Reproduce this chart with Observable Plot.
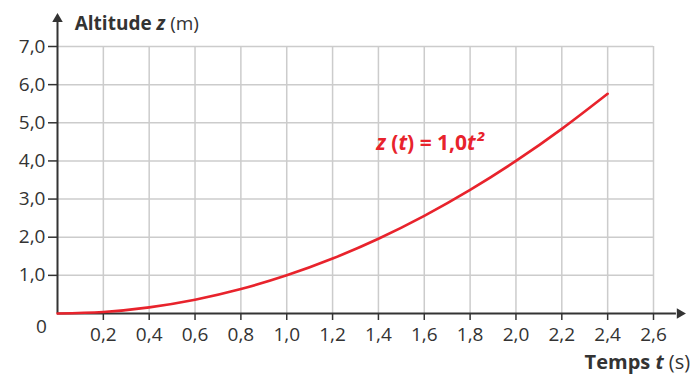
<!DOCTYPE html>
<html>
<head>
<meta charset="utf-8">
<script src="https://cdn.jsdelivr.net/npm/d3@7"></script>
<script src="https://cdn.jsdelivr.net/npm/@observablehq/plot@0.6"></script>
<style>
  html, body { margin: 0; padding: 0; background: #fff; }
</style>
</head>
<body>
<div id="chart"></div>
<script>
// Data
const times = [0, 0.2, 0.4, 0.6, 0.8, 1.0, 1.2, 1.4, 1.6, 1.8, 2.0, 2.2, 2.4];
const altitudes = [0, 0.04, 0.16, 0.36, 0.64, 1.0, 1.44, 1.96, 2.56, 3.24, 4.0, 4.84, 5.76];
const xTicks = [0.2, 0.4, 0.6, 0.8, 1.0, 1.2, 1.4, 1.6, 1.8, 2.0, 2.2, 2.4, 2.6];
const yTicks = [1, 2, 3, 4, 5, 6, 7];
const yLabel = "Altitude z (m)";
const xLabel = "Temps t (s)";
const curveLabel = "z (t) = 1,0t²";

const points = times.map((t, i) => ({t, z: altitudes[i]}));
const fmt = d => d.toFixed(1).replace(".", ",");
const red = "#e8232c";
const ink = "#333";
const grid = "#cccccc";

const chart = Plot.plot({
  width: 694,
  height: 376,
  marginLeft: 57,
  marginRight: 41,
  marginTop: 46,
  marginBottom: 63,
  style: {fontFamily: "'Open Sans', sans-serif", fontSize: "19px", color: ink, background: "#fff", overflow: "visible"},
  x: {domain: [0, 2.6]},
  y: {domain: [0, 7]},
  marks: [
    // grid
    Plot.ruleY(yTicks, {x1: 0, x2: 2.6, stroke: grid, strokeWidth: 1.5}),
    Plot.ruleX(xTicks, {y1: 0, y2: 7, stroke: grid, strokeWidth: 1.5}),
    // axes ticks and labels
    Plot.axisY(yTicks, {tickSize: 9, tickPadding: 3, tickFormat: fmt, label: null, stroke: ink, strokeWidth: 1.5, fontSize: 19}),
    Plot.axisX(xTicks, {tickSize: 7, tickPadding: 7, tickFormat: fmt, label: null, stroke: ink, strokeWidth: 1.5, fontSize: 19}),
    // axis lines
    Plot.ruleX([0], {y1: 0, y2: 7.65, stroke: ink, strokeWidth: 2}),
    Plot.ruleY([0], {x1: 0, x2: 2.7, stroke: ink, strokeWidth: 2}),
    Plot.dot([{x: 0, y: 7.72}], {x: "x", y: "y", symbol: "triangle", r: 3.9, fill: ink, stroke: null}),
    Plot.dot([{x: 2.715, y: 0}], {x: "x", y: "y", symbol: "triangle", r: 3.9, fill: ink, stroke: null, rotate: 90}),
    // origin label
    Plot.text(["0"], {x: 0, y: 0, dx: -16, dy: 13, fontSize: 19, fill: ink}),
    // curve
    Plot.line(points, {x: "t", y: "z", curve: "natural", stroke: red, strokeWidth: 2.6}),
    // labels
    Plot.text([yLabel], {x: 0.075, y: 7.6, textAnchor: "start", fontSize: 19, fill: ink}),
    Plot.text([xLabel], {x: 2.76, y: -1.3, textAnchor: "end", fontSize: 20, fill: ink}),
    Plot.text([curveLabel], {x: 1.625, y: 4.45, textAnchor: "middle", fontSize: 21, fontWeight: "bold", fill: red})
  ]
});

document.getElementById("chart").appendChild(chart);

// Rich text styling for labels
const svg = d3.select(chart);
function rich(str, parts) {
  svg.selectAll("text").filter(function() { return this.textContent === str; }).each(function() {
    const el = d3.select(this);
    el.text(null);
    parts.forEach(p => {
      const ts = el.append("tspan").text(p.t);
      if (p.w) ts.attr("font-weight", p.w);
      if (p.i) ts.attr("font-style", "italic");
    });
  });
}
rich(yLabel, [{t: "Altitude ", w: "bold"}, {t: "z", w: "bold", i: true}, {t: " (m)", w: "normal"}]);
rich(xLabel, [{t: "Temps ", w: "bold"}, {t: "t", w: "bold", i: true}, {t: " (s)", w: "normal"}]);
rich(curveLabel, [{t: "z", i: true}, {t: " ("}, {t: "t", i: true}, {t: ") = 1,0"}, {t: "t²", i: true}]);
</script>
</body>
</html>
